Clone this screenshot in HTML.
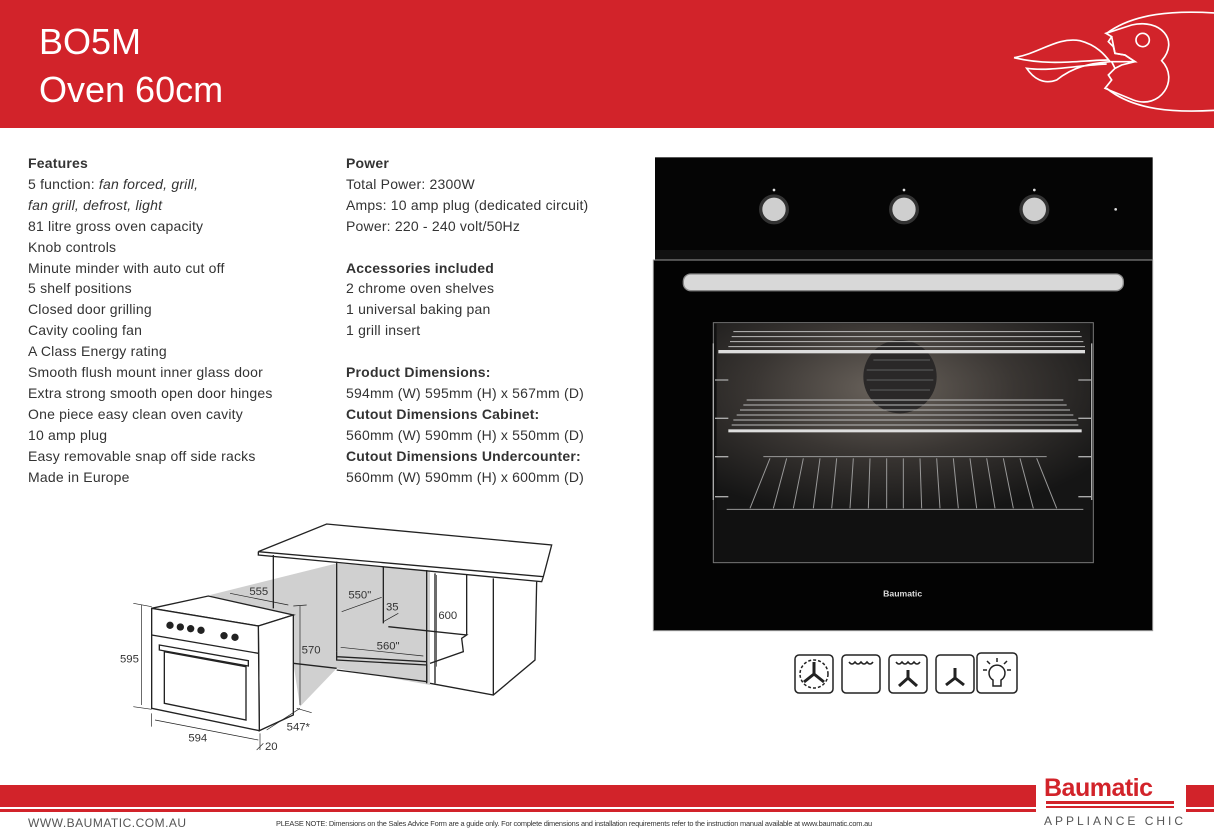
<!DOCTYPE html>
<html><head><meta charset="utf-8"><style>
body{margin:0;width:1214px;height:836px;position:relative;background:#fff;font-family:"Liberation Sans",sans-serif;overflow:hidden}
.hdr{position:absolute;left:0;top:0;width:1214px;height:128px;background:#d2232a}
.t{position:absolute;left:39px;color:#fff;font-size:36px;font-family:"Liberation Sans",sans-serif}
.col{position:absolute;top:153px;font-size:14px;line-height:20.9px;color:#333;letter-spacing:0.2px}
.col b{font-weight:bold;color:#333}
</style></head><body>
<div class="hdr"></div>
<div class="t" style="top:21px">BO5M</div>
<div class="t" style="top:69px">Oven 60cm</div>
<svg style="position:absolute;left:1000px;top:0" width="214" height="128" viewBox="0 0 642 384" fill="none" stroke="#fff" stroke-width="5">
<path d="M320 100 C400 40,520 30,660 40"/>
<path d="M320 265 C400 330,520 340,660 330"/>
<path d="M318 100 L395 75 C480 55,540 120,485 182 C540 240,480 330,400 300 L315 265 L335 240 L325 225 L345 205 L335 185 L365 185 L405 185 L375 165 L345 160 L340 140 L325 125 L335 110 Z"/>
<path d="M335 110 L345 160 L375 165 L405 185 L365 195 L345 205"/>
<circle cx="428" cy="120" r="20"/>
<path d="M42 173 C120 160,170 110,240 122 C290 135,315 165,330 185 C270 190,220 200,170 240 C130 255,100 235,80 205 C150 215,240 195,320 192"/>
<path d="M42 173 C150 200,250 180,325 180"/>
</svg>
<div class="col" style="left:28px"><b>Features</b><br>5 function: <i>fan forced, grill,</i><br><i>fan grill, defrost, light</i><br>81 litre gross oven capacity<br>Knob controls<br>Minute minder with auto cut off<br>5 shelf positions<br>Closed door grilling<br>Cavity cooling fan<br>A Class Energy rating<br>Smooth flush mount inner glass door<br>Extra strong smooth open door hinges<br>One piece easy clean oven cavity<br>10 amp plug<br>Easy removable snap off side racks<br>Made in Europe</div>
<div class="col" style="left:346px"><b>Power</b><br>Total Power: 2300W<br>Amps: 10 amp plug (dedicated circuit)<br>Power: 220 - 240 volt/50Hz<br><br><b>Accessories included</b><br>2 chrome oven shelves<br>1 universal baking pan<br>1 grill insert<br><br><b>Product Dimensions:</b><br>594mm (W) 595mm (H) x 567mm (D)<br><b>Cutout Dimensions Cabinet:</b><br>560mm (W) 590mm (H) x 550mm (D)<br><b>Cutout Dimensions Undercounter:</b><br>560mm (W) 590mm (H) x 600mm (D)</div>
<!-- oven -->
<svg style="position:absolute;left:650px;top:150px" width="510" height="490" viewBox="0 0 1530 1470">
<defs><radialGradient id="g" cx="0.45" cy="0.35" r="0.7"><stop offset="0" stop-color="#6a635c"/><stop offset="0.5" stop-color="#3a3633"/><stop offset="1" stop-color="#151515"/></radialGradient></defs>
<rect x="15" y="22" width="1493" height="278" fill="#050505"/>
<rect x="15" y="300" width="1493" height="30" fill="#111"/>
<rect x="10" y="330" width="1498" height="1112" fill="#030303" stroke="#999" stroke-width="3"/>
<g fill="#cfcfcf" stroke="#333" stroke-width="10"><circle cx="372" cy="178" r="40"/><circle cx="762" cy="178" r="40"/><circle cx="1153" cy="178" r="40"/></g>
<g fill="#ddd"><circle cx="372" cy="120" r="4"/><circle cx="762" cy="120" r="4"/><circle cx="1153" cy="120" r="4"/><circle cx="1397" cy="178" r="4"/></g>
<rect x="100" y="372" width="1320" height="50" rx="22" fill="#d8d8d8" stroke="#888" stroke-width="4"/>
<rect x="190" y="518" width="1140" height="720" fill="#111" stroke="#777" stroke-width="3"/>
<rect x="200" y="520" width="1120" height="560" fill="url(#g)"/>
<ellipse cx="750" cy="680" rx="110" ry="110" fill="#2a2828"/>
<g stroke="#555" stroke-width="4" fill="none"><path d="M670 630 h170 M650 660 h200 M650 690 h200 M660 720 h180"/></g>
<g stroke="#bbb" stroke-width="3"><path d="M250 545 h1040 M245 560 h1050 M240 575 h1060 M235 590 h1070"/></g>
<rect x="205" y="600" width="1100" height="10" fill="#ddd"/>
<g stroke="#bbb" stroke-width="3"><path d="M290 750 h950 M280 765 h970 M270 780 h990 M260 795 h1010 M250 810 h1030 M245 825 h1040"/></g>
<rect x="235" y="838" width="1060" height="9" fill="#ddd"/>
<g stroke="#999" stroke-width="3"><path d="M340 920 h850 M230 1078 h1070 M360 925 l-60 150 M410 925 l-40 150 M460 925 l-30 150 M510 925 l-20 150 M560 925 l-15 150 M610 925 l-10 150 M660 925 l-5 150 M710 925 v150 M760 925 v150 M810 925 l5 150 M860 925 l10 150 M910 925 l15 150 M960 925 l20 150 M1010 925 l25 150 M1060 925 l30 150 M1110 925 l40 150 M1160 925 l60 150"/></g>
<g stroke="#aaa" stroke-width="4"><path d="M190 580 v470 M1325 580 v470 M195 690 h40 M195 805 h40 M195 920 h40 M195 1040 h40 M1285 690 h40 M1285 805 h40 M1285 920 h40 M1285 1040 h40"/></g>
<text x="758" y="1340" fill="#ddd" font-size="26" text-anchor="middle" font-family="Liberation Sans" font-weight="bold">Baumatic</text>
</svg>
<!-- icons -->
<svg style="position:absolute;left:793px;top:652px" width="228" height="44" fill="none" stroke="#222" stroke-width="1.5">
<rect x="2" y="3" width="38" height="38" rx="4"/><rect x="49" y="3" width="38" height="38" rx="4"/><rect x="96" y="3" width="38" height="38" rx="4"/><rect x="143" y="3" width="38" height="38" rx="4"/><rect x="184" y="1" width="40" height="40" rx="4"/>
<circle cx="21" cy="22" r="14" stroke-dasharray="3 2"/><path d="M21 22 L21 10 M21 22 L11 30 M21 22 L31 30" stroke-width="3"/>
<path d="M56 10 q3 4 6 0 q3 4 6 0 q3 4 6 0 q3 4 6 0"/>
<path d="M103 10 q3 4 6 0 q3 4 6 0 q3 4 6 0 q3 4 6 0"/><path d="M115 18 L115 26 L106 34 M115 26 L124 34" stroke-width="3"/>
<path d="M162 16 L162 26 L153 33 M162 26 L171 33" stroke-width="3"/>
<path d="M200 28 a8 8 0 1 1 8 0 v6 h-8z M204 6 v4 M190 18 h4 M214 18 h4 M194 9 l3 3 M214 9 l-3 3"/>
</svg>
<!-- diagram -->
<svg style="position:absolute;left:120px;top:520px" width="440" height="240" viewBox="0 0 1320 720" font-family="Liberation Sans" font-size="34" fill="none" stroke="#222" stroke-width="4">
<path d="M270 225 L650 130 L930 150 L930 495 L650 445 L540 560 L520 430 Z" fill="#d0d0d0" stroke="none"/>
<path d="M415 95 L620 12 L1295 75 L1270 170 Z M415 95 L415 105 L1265 185 L1270 170" fill="#fff"/>
<path d="M460 105 V265 M650 125 V395 M790 140 V310 M920 150 V490 M945 160 V490 M1040 165 V345 M1120 175 V525 M1250 185 L1245 420 L1120 525 L930 490"/>
<path d="M650 395 L650 420 L920 435 L920 485 L650 450 M650 410 L920 425 M805 320 L1040 345 L1025 355 L1030 395 L930 430"/>
<path d="M520 430 L650 445"/>
<path d="M95 265 L265 228 L520 285 L415 318 Z" fill="#fff"/>
<path d="M415 318 L520 285 L520 585 L418 632 Z" fill="#fff"/>
<path d="M95 265 L415 318 L418 632 L95 565 Z" fill="#fff"/>
<path d="M95 345 L415 400"/>
<path d="M118 375 L385 422 L385 438 L118 390 Z"/>
<path d="M133 395 L378 440 L378 600 L133 550 Z"/>
<g fill="#222" stroke="none"><circle cx="150" cy="316" r="11"/><circle cx="181" cy="321" r="11"/><circle cx="212" cy="326" r="11"/><circle cx="243" cy="331" r="11"/><circle cx="312" cy="347" r="11"/><circle cx="345" cy="352" r="11"/></g>
<g stroke-width="2"><path d="M65 255 V555 M40 250 L95 260 M40 560 L95 568 M540 258 V555 M520 258 L560 255 M530 565 L575 578 M105 600 L415 660 M95 580 V620 M420 640 V690 M330 220 L505 255 M665 275 L785 232 M790 305 L835 280 M662 382 L910 408 M950 165 V440 M540 565 L440 630 M410 690 L430 670"/></g>
<g fill="#333" stroke="none"><text x="0" y="428">595</text><text x="205" y="665">594</text><text x="388" y="225">555</text><text x="545" y="400">570</text><text x="500" y="632">547*</text><text x="435" y="690">20</text><text x="685" y="235">550"</text><text x="798" y="272">35</text><text x="770" y="388">560"</text><text x="955" y="297">600</text></g>
</svg>
<!-- footer -->
<div style="position:absolute;left:0;top:785px;width:1214px;height:22px;background:#d2232a"></div>
<div style="position:absolute;left:0;top:809px;width:1214px;height:3px;background:#d2232a"></div>
<div style="position:absolute;left:1036px;top:770px;width:150px;height:44px;background:#fff"></div>
<div style="position:absolute;left:1044px;top:774px;color:#d2232a;font-size:25px;font-weight:bold;letter-spacing:-0.5px">Baumatic</div>
<div style="position:absolute;left:1046px;top:801px;width:128px;height:3px;background:#d2232a"></div>
<div style="position:absolute;left:1046px;top:806px;width:128px;height:2px;background:#d2232a"></div>
<div style="position:absolute;left:1044px;top:814px;color:#555;font-size:12px;letter-spacing:3px">APPLIANCE CHIC</div>
<div style="position:absolute;left:28px;top:816px;color:#555;font-size:12px;letter-spacing:0.5px">WWW.BAUMATIC.COM.AU</div>
<div style="position:absolute;left:276px;top:819px;color:#333;font-size:7.4px;letter-spacing:-0.2px">PLEASE NOTE: Dimensions on the Sales Advice Form are a guide only. For complete dimensions and installation requirements refer to the instruction manual available at www.baumatic.com.au</div>
</body></html>
